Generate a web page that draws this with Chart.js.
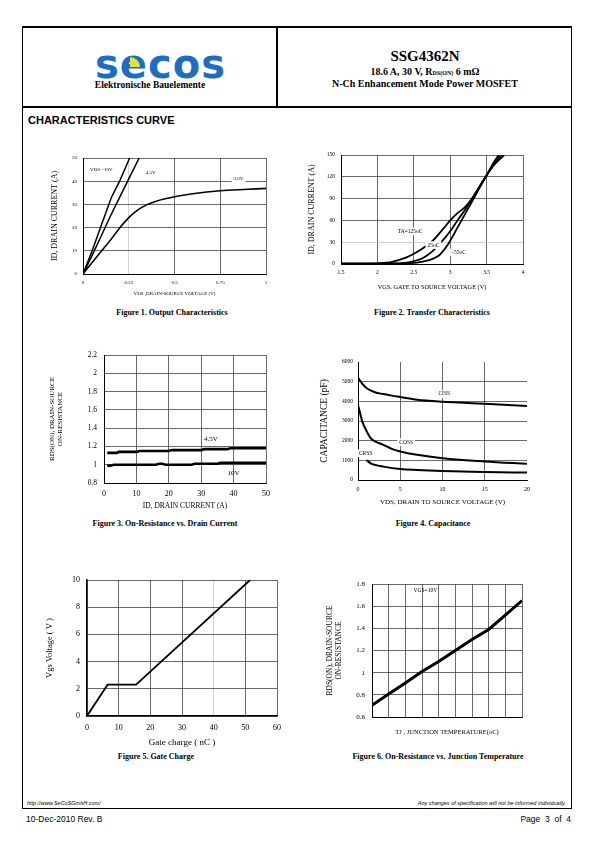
<!DOCTYPE html>
<html>
<head>
<meta charset="utf-8">
<script src="https://cdn.jsdelivr.net/npm/chart.js@4.4.0/dist/chart.umd.min.js"></script>
<style>
  body { margin: 0; width: 595px; height: 842px; position: relative; background: #fff; color: #000; overflow: hidden; }
  .a { position: absolute; white-space: nowrap; }
  .serif { font-family: "Liberation Serif", serif; }
  .sans { font-family: "Liberation Sans", Arial, sans-serif; }
  .cap { font-family: "Liberation Serif", serif; font-weight: bold; font-size: 8px; transform: translateX(-50%); }
  canvas { position: absolute; }
</style>
</head>
<body>

<!-- page frame -->
<div class="a" style="left:22px;top:26px;width:550px;height:783px;border:1.5px solid #000;box-sizing:border-box"></div>
<div class="a" style="left:22px;top:26px;width:550px;height:2px;background:#000"></div>
<div class="a" style="left:22px;top:106px;width:550px;height:2px;background:#000"></div>
<div class="a" style="left:276px;top:26px;width:2px;height:81px;background:#000"></div>

<!-- logo -->
<div class="a" style="left:95px;top:44px;font-family:'DejaVu Sans';font-weight:bold;font-size:40px;line-height:40px;letter-spacing:1px;color:#1b6ec2">secos</div>
<div class="a" style="left:130px;top:57px;width:10px;height:10px;background:#e6df3c;border-radius:0 10px 0 0"></div>
<div class="a serif" style="left:150px;top:80px;transform:translateX(-50%);font-weight:bold;font-size:9.5px">Elektronische Bauelemente</div>

<!-- title block -->
<div class="a serif" style="left:425px;top:48px;transform:translateX(-50%);font-weight:bold;font-size:15px">SSG4362N</div>
<div class="a serif" style="left:425px;top:66px;transform:translateX(-50%);font-weight:bold;font-size:10px">18.6 A, 30 V, R<span style="font-size:6px">DS(ON)</span> 6 mΩ</div>
<div class="a serif" style="left:425px;top:78px;transform:translateX(-50%);font-weight:bold;font-size:10px">N-Ch Enhancement Mode Power MOSFET</div>

<div class="a sans" style="left:28px;top:114px;font-weight:bold;font-size:11px">CHARACTERISTICS CURVE</div>

<canvas id="fig1"></canvas>
<canvas id="fig2"></canvas>
<canvas id="fig3"></canvas>
<canvas id="fig4"></canvas>
<canvas id="fig5"></canvas>
<canvas id="fig6"></canvas>

<div class="a cap" style="left:172px;top:308px">Figure 1. Output Characteristics</div>
<div class="a cap" style="left:432px;top:308px">Figure 2. Transfer Characteristics</div>
<div class="a cap" style="left:165px;top:519px">Figure 3. On-Resistance vs. Drain Current</div>
<div class="a cap" style="left:433px;top:519px">Figure 4. Capacitance</div>
<div class="a cap" style="left:156px;top:752px">Figure 5. Gate Charge</div>
<div class="a cap" style="left:438px;top:752px">Figure 6. On-Resistance vs. Junction Temperature</div>

<!-- footer -->
<div class="a sans" style="left:27px;top:800px;font-style:italic;font-size:5.5px">http://www.SeCoSGmbH.com/</div>
<div class="a sans" style="right:29px;top:800px;font-style:italic;font-size:5.5px">Any changes of specification will not be informed individually.</div>
<div class="a sans" style="left:26px;top:814px;font-size:8.5px">10-Dec-2010 Rev. B</div>
<div class="a sans" style="right:24px;top:814px;font-size:8.5px">Page&nbsp; 3&nbsp; of&nbsp; 4</div>

<script>
// ---- Figure 1: output characteristics (VDS in V, ID in A)
const out10Vds = [0, 0.05, 0.1, 0.155, 0.2, 0.255];
const out10Id = [0, 10, 21, 33, 40, 50];
const out45Vds = [0, 0.05, 0.1, 0.15, 0.2, 0.25, 0.307];
const out45Id = [0, 8, 16.5, 25, 33, 41, 50];
const out30Vds = [0, 0.05, 0.1, 0.15, 0.2, 0.25, 0.3, 0.35, 0.4, 0.5, 0.6, 0.75, 0.9, 1];
const out30Id = [0, 5, 9.8, 14.6, 19.8, 24.3, 27.6, 29.9, 31.4, 33.3, 34.6, 35.9, 36.5, 36.9];
const fig1Notes = ['VDS =10V', '4.5V', '3.0V'];
const fig1NoteX = [0.1, 0.37, 0.85];
const fig1NoteY = [45, 43.5, 41];

// ---- Figure 2: transfer characteristics (VGS in V, ID in A)
const tr125Vgs = [1.5, 1.8, 2.0, 2.2, 2.4, 2.5, 2.6, 2.75, 2.9, 3.0, 3.1, 3.2, 3.3, 3.4, 3.5, 3.6, 3.74];
const tr125Id = [0.5, 0.5, 1, 3, 9, 14, 20, 31, 48, 60, 70, 78, 90, 106, 122, 136, 150];
const tr25Vgs = [1.5, 2.0, 2.2, 2.4, 2.5, 2.6, 2.67, 2.75, 2.85, 3.0, 3.1, 3.2, 3.3, 3.4, 3.5, 3.6, 3.7];
const tr25Id = [0.5, 0.5, 0.8, 2, 4, 7, 11, 17, 27, 45, 60, 74, 90, 106, 122, 138, 150];
const trM55Vgs = [1.5, 2.2, 2.4, 2.5, 2.6, 2.7, 2.8, 2.85, 2.95, 3.0, 3.1, 3.2, 3.3, 3.4, 3.5, 3.6, 3.667];
const trM55Id = [0.5, 0.5, 0.8, 1.5, 3, 5, 9, 12, 24, 32, 50, 68, 86, 104, 122, 140, 150];
const fig2Notes = ['TA=125oC', '25oC', '-55oC'];
const fig2NoteX = [2.45, 2.77, 3.12];
const fig2NoteY = [45, 26, 16];

// ---- Figure 3: on-resistance vs drain current (normalised)
const ron45Id = [1, 4, 4.5, 10, 11, 20, 21, 30, 31, 38, 39, 50];
const ron45 = [1.13, 1.13, 1.14, 1.14, 1.15, 1.15, 1.16, 1.16, 1.17, 1.17, 1.18, 1.18];
const ron10Id = [1, 2, 3, 16, 17, 18, 19, 27, 28, 35, 36, 50];
const ron10 = [0.99, 0.99, 1.0, 1.0, 1.01, 1.01, 1.0, 1.0, 1.01, 1.01, 1.02, 1.02];
const fig3Notes = ['4.5V', '10V'];
const fig3NoteX = [33, 40];
const fig3NoteY = [1.28, 0.91];

// ---- Figure 4: capacitance (VDS in V, C in pF)
const cissVds = [0, 0.5, 1, 2, 3, 4, 5, 7, 10, 15, 20];
const ciss = [5200, 4900, 4680, 4460, 4370, 4290, 4220, 4080, 3980, 3880, 3760];
const cossVds = [0, 0.25, 0.5, 1, 1.5, 2, 3, 4, 5, 7, 10, 15, 20];
const coss = [3800, 3400, 2980, 2500, 2130, 1960, 1790, 1580, 1450, 1280, 1110, 940, 820];
const crssVds = [1, 1.5, 2, 3, 5, 7, 10, 15, 20];
const crss = [1020, 850, 770, 680, 560, 510, 460, 410, 375];
const fig4Notes = ['CISS', 'COSS', 'CRSS'];
const fig4NoteX = [10.2, 5.7, 0.9];
const fig4NoteY = [4370, 1920, 1360];

// ---- Figure 5: gate charge (Qg in nC, VGS in V)
const gateQ = [0, 6.5, 15.5, 51.5];
const gateV = [0, 2.3, 2.3, 10];

// ---- Figure 6: on-resistance vs junction temperature
const tjTemp = [-50, -25, 0, 25, 50, 75, 100, 125, 150, 175];
const tjRon = [0.705, 0.807, 0.906, 1.01, 1.10, 1.20, 1.30, 1.39, 1.52, 1.65];
const fig6Notes = ['VGS=10V'];
const fig6NoteX = [30];
const fig6NoteY = [1.74];

const SERIF = '"Liberation Serif", "Times New Roman", serif';

const notePlugin = {
  id: 'notes',
  afterDatasetsDraw(chart, args, opts) {
    if (!opts.text) return;
    const ctx = chart.ctx, sx = chart.scales.x, sy = chart.scales.y;
    ctx.save();
    ctx.font = opts.size + 'px ' + SERIF;
    ctx.textAlign = 'center';
    ctx.textBaseline = 'middle';
    opts.text.forEach((t, i) => {
      const px = sx.getPixelForValue(opts.xs[i]);
      const py = sy.getPixelForValue(opts.ys[i]);
      const w = ctx.measureText(t).width;
      if (opts.bg) {
        ctx.fillStyle = '#fff';
        ctx.fillRect(px - w / 2 - 2, py - opts.size * 0.7, w + 4, opts.size * 1.4);
      }
      ctx.fillStyle = '#000';
      ctx.fillText(t, px, py);
    });
    ctx.restore();
  }
};

function pts(xs, ys) {
  return xs.map((x, i) => ({ x: x, y: ys[i] }));
}

function line(xs, ys, w, tension) {
  return {
    data: pts(xs, ys), borderColor: '#000', borderWidth: w, pointRadius: 0,
    fill: false, tension: tension || 0, cubicInterpolationMode: tension ? 'monotone' : 'default'
  };
}

function gridColor(hi, hideMax, max) {
  return c => {
    if (!c.tick) return '#444';
    if (hideMax && Math.abs(c.tick.value - max) < 1e-9) return 'rgba(0,0,0,0)';
    if (hi !== undefined && Math.abs(c.tick.value - hi) < 1e-9) return '#c4c4c4';
    return '#444';
  };
}

const tickText = v => String(Math.round(v * 1000) / 1000);

function build(id, g, datasets, xo, yo, notes) {
  const [L, T, R, B] = g.plot;
  const cl = Math.round(g.yTitleX - g.yFont * 0.6);
  const cb = Math.round(g.xTitleY + g.xFont * 0.6);
  const ct = T - 10, cr = R + 14;
  const cv = document.getElementById(id);
  cv.width = cr - cl; cv.height = cb - ct;
  cv.style.left = cl + 'px'; cv.style.top = ct + 'px';
  cv.style.width = (cr - cl) + 'px'; cv.style.height = (cb - ct) + 'px';
  const yW = L - cl, xH = cb - B;

  new Chart(cv.getContext('2d'), {
    type: 'line',
    data: { datasets: datasets },
    plugins: [notePlugin],
    options: {
      responsive: false, animation: false, devicePixelRatio: 1,
      layout: { padding: { top: 10, right: 14, left: 0, bottom: 0 } },
      plugins: { legend: { display: false }, tooltip: { enabled: false }, notes: notes },
      scales: {
        x: {
          type: 'linear', min: xo.min, max: xo.max,
          ticks: {
            display: xo.showTicks !== false, stepSize: xo.step, color: '#000', padding: xo.pad,
            maxRotation: 0, autoSkip: false, font: { family: SERIF, size: xo.tickSize }, callback: tickText
          },
          grid: { color: gridColor(xo.hi, xo.hideMax, xo.max), lineWidth: xo.gridW || 0.8, drawTicks: false },
          border: { color: '#000', width: xo.borderW || 1 },
          title: { display: true, text: xo.title, color: '#000', padding: 0, font: { family: SERIF, size: g.xFont, lineHeight: 1.2 } },
          afterFit: s => { s.height = xH; s.paddingLeft = s.paddingRight = s.paddingTop = s.paddingBottom = 0; }
        },
        y: {
          type: 'linear', min: yo.min, max: yo.max,
          ticks: {
            stepSize: yo.step, color: '#000', padding: yo.pad, autoSkip: false,
            font: { family: SERIF, size: yo.tickSize }, callback: tickText
          },
          grid: { color: gridColor(yo.hi, yo.hideMax, yo.max), lineWidth: yo.gridW || 0.8, drawTicks: false },
          border: { color: '#000', width: yo.borderW || 1 },
          title: { display: true, text: yo.title, color: '#000', padding: 0, font: { family: SERIF, size: g.yFont, lineHeight: 1.2 } },
          afterFit: s => { s.width = yW; s.paddingLeft = s.paddingRight = s.paddingTop = s.paddingBottom = 0; }
        }
      }
    }
  });
}

// Figure 1
build('fig1', { plot: [83, 158, 266, 274], yTitleX: 55, yFont: 8, xTitleY: 294, xFont: 5 },
  [line(out10Vds, out10Id, 1.5), line(out45Vds, out45Id, 1.5), line(out30Vds, out30Id, 1.6, 0.4)],
  { min: 0, max: 1, step: 0.25, pad: 6, tickSize: 5, hi: 0.25, title: 'VDS ,DRAIN-SOURCE VOLTAGE (V)' },
  { min: 0, max: 50, step: 10, pad: 6, tickSize: 5, title: 'ID, DRAIN CURRENT (A)' },
  { text: fig1Notes, xs: fig1NoteX, ys: fig1NoteY, size: 5, bg: true });

// Figure 2
build('fig2', { plot: [341, 155, 523, 264], yTitleX: 312, yFont: 8, xTitleY: 287, xFont: 6.3 },
  [line(tr125Vgs, tr125Id, 1.8, 0.3), line(tr25Vgs, tr25Id, 1.8, 0.3), line(trM55Vgs, trM55Id, 1.8, 0.3)],
  { min: 1.5, max: 4, step: 0.5, pad: 5, tickSize: 5.5, title: 'VGS, GATE TO SOURCE VOLTAGE (V)' },
  { min: 0, max: 150, step: 30, pad: 6, tickSize: 5.5, hi: 30, title: 'ID, DRAIN CURRENT (A)' },
  { text: fig2Notes, xs: fig2NoteX, ys: fig2NoteY, size: 5.5, bg: true });

// Figure 3
build('fig3', { plot: [104, 355, 266, 483], yTitleX: 52, yFont: 7, xTitleY: 506, xFont: 7.5 },
  [line(ron45Id, ron45, 2.6), line(ron10Id, ron10, 2.6)],
  { min: 0, max: 50, step: 10, pad: 6, tickSize: 8, title: 'ID, DRAIN CURRENT (A)' },
  { min: 0.8, max: 2.2, step: 0.2, pad: 7, tickSize: 7.5, title: ['RDS(ON), DRAIN-SOURCE', 'ON-RESISTANCE'] },
  { text: fig3Notes, xs: fig3NoteX, ys: fig3NoteY, size: 7, bg: false });

// Figure 4
build('fig4', { plot: [358, 362, 527, 480], yTitleX: 325, yFont: 9.5, xTitleY: 502, xFont: 7 },
  [line(cissVds, ciss, 2, 0.4), line(cossVds, coss, 2, 0.4), line(crssVds, crss, 2, 0.4)],
  { min: 0, max: 20, step: 5, pad: 6, tickSize: 6, hideMax: true, title: 'VDS, DRAIN TO SOURCE VOLTAGE (V)' },
  { min: 0, max: 6000, step: 1000, pad: 5, tickSize: 5.5, hideMax: true, title: 'CAPACITANCE (pF)' },
  { text: fig4Notes, xs: fig4NoteX, ys: fig4NoteY, size: 5.5, bg: true });

// Figure 5
build('fig5', { plot: [87, 580, 277, 716], yTitleX: 50, yFont: 8.5, xTitleY: 743, xFont: 9 },
  [line(gateQ, gateV, 1.8)],
  { min: 0, max: 60, step: 10, pad: 7, tickSize: 8, hi: 40, borderW: 1.5, title: 'Gate charge ( nC )' },
  { min: 0, max: 10, step: 2, pad: 7, tickSize: 8, borderW: 1.5, title: 'Vgs Voltage ( V )' },
  {});

// Figure 6
build('fig6', { plot: [372, 584, 522, 717], yTitleX: 330, yFont: 7.5, xTitleY: 732, xFont: 6.5 },
  [line(tjTemp, tjRon, 3)],
  { min: -50, max: 175, step: 25, pad: 4, tickSize: 6, showTicks: false, title: 'TJ , JUNCTION TEMPERATURE(oC)' },
  { min: 0.6, max: 1.8, step: 0.2, pad: 7, tickSize: 7, title: ['RDS(ON), DRAIN-SOURCE', 'ON-RESISTANCE'] },
  { text: fig6Notes, xs: fig6NoteX, ys: fig6NoteY, size: 5.5, bg: false });
</script>
</body>
</html>
